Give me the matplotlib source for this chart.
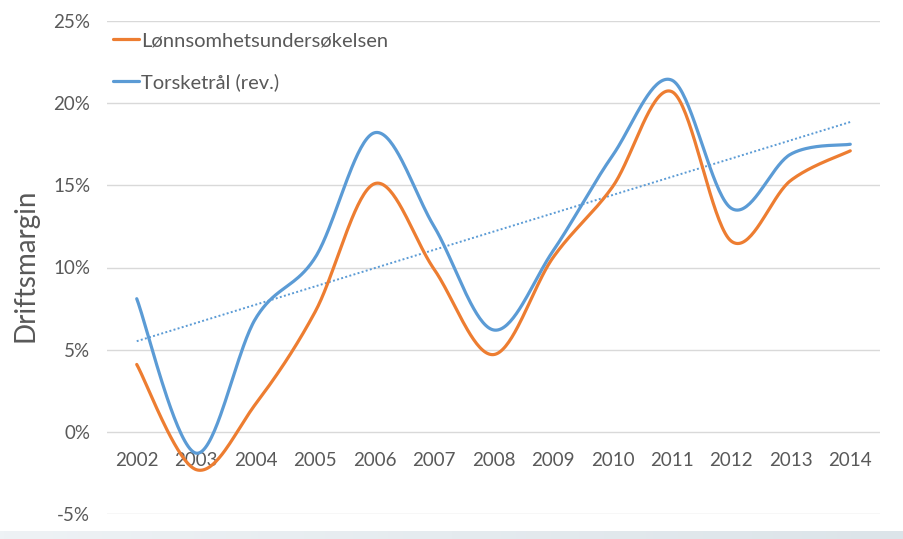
import numpy as np
import matplotlib
matplotlib.use("Agg")
import matplotlib.pyplot as plt
from matplotlib.ticker import FuncFormatter
from matplotlib.colors import LinearSegmentedColormap

plt.rcParams['font.family'] = ['Lato', 'DejaVu Sans']

years = ["2002", "2003", "2004", "2005", "2006", "2007", "2008",
         "2009", "2010", "2011", "2012", "2013", "2014"]
lonnsomhet = [4.1, -2.3, 1.7, 7.3, 15.1, 9.9, 4.7, 10.6, 14.9, 20.7, 11.6, 15.3, 17.1]
torsketral = [8.1, -1.3, 6.9, 10.6, 18.2, 12.5, 6.2, 11.0, 16.8, 21.4, 13.6, 16.9, 17.5]
series_names = ["Lønnsomhetsundersøkelsen", "Torsketrål (rev.)"]
y_ticks = [-5, 0, 5, 10, 15, 20, 25]

ORANGE = "#ED7D31"
BLUE = "#5B9BD5"
TXT = "#595959"


def smooth(xs, ys, n=40):
    """Excel-like smoothed line (Catmull-Rom Bezier)."""
    xs = np.asarray(xs, float)
    ys = np.asarray(ys, float)
    px = np.concatenate([[xs[0]], xs, [xs[-1]]])
    py = np.concatenate([[ys[0]], ys, [ys[-1]]])
    ox, oy = [], []
    t = np.linspace(0, 1, n)
    for i in range(1, len(px) - 2):
        p0 = np.array([px[i - 1], py[i - 1]])
        p1 = np.array([px[i], py[i]])
        p2 = np.array([px[i + 1], py[i + 1]])
        p3 = np.array([px[i + 2], py[i + 2]])
        c1 = p1 + (p2 - p0) / 6.0
        c2 = p2 - (p3 - p1) / 6.0
        b = ((1 - t) ** 3)[:, None] * p1 + (3 * (1 - t) ** 2 * t)[:, None] * c1 \
            + (3 * (1 - t) * t ** 2)[:, None] * c2 + (t ** 3)[:, None] * p2
        ox.extend(b[:, 0])
        oy.extend(b[:, 1])
    return np.array(ox), np.array(oy)


fig = plt.figure(figsize=(9.04, 5.39), dpi=100)
ax = fig.add_axes([107 / 904, 1 - 514 / 539, (880 - 107) / 904, (514 - 21) / 539])

x = np.arange(len(years))

# gridlines
for v in y_ticks:
    ax.axhline(v, color="#d9d9d9", lw=1.0, zorder=0)

# trendline (linear fit of Torsketrål)
k, m = np.polyfit(x, torsketral, 1)
ax.plot(x, k * x + m, color=BLUE, lw=1.4, ls=(0, (1, 1.2)), zorder=2)

sx, sy = smooth(x, lonnsomhet)
ax.plot(sx, sy, color=ORANGE, lw=2.3, solid_capstyle="round", label=series_names[0], zorder=3)
sx, sy = smooth(x, torsketral)
ax.plot(sx, sy, color=BLUE, lw=2.3, solid_capstyle="round", label=series_names[1], zorder=3)

ax.set_xlim(-0.5, len(years) - 0.5)
ax.set_ylim(-5, 25)
ax.set_yticks(y_ticks)
ax.yaxis.set_major_formatter(FuncFormatter(lambda v, p: f"{v:.0f}%"))
ax.set_xticks(x)
ax.set_xticklabels(years)

for s in ax.spines.values():
    s.set_visible(False)
ax.spines['bottom'].set_position(('data', 0))
ax.tick_params(axis='both', length=0, labelsize=13.5, colors=TXT)
ax.tick_params(axis='y', pad=12)
ax.tick_params(axis='x', pad=14.5)
ax.patch.set_alpha(0)

fig.text(26 / 904, 1 - 265 / 539, "Driftsmargin", rotation=90, fontsize=20,
         color=TXT, ha="center", va="center")

leg = ax.legend(loc="upper left", bbox_to_anchor=(113 / 904, 1 - 32 / 539),
                bbox_transform=fig.transFigure, frameon=False, fontsize=14.5,
                handlelength=1.3, handletextpad=0.1, labelspacing=1.2,
                borderaxespad=0, borderpad=0)
for t in leg.get_texts():
    t.set_color(TXT)

# bottom strip
sax = fig.add_axes([0, 0, 1, 8 / 539])
grad = np.linspace(0, 1, 256)[None, :]
cm = LinearSegmentedColormap.from_list("strip", ["#eef2f5", "#dce4e9"])
sax.imshow(grad, aspect="auto", cmap=cm, extent=[0, 1, 0, 1])
sax.set_axis_off()

fig.savefig("out.png", dpi=100)
